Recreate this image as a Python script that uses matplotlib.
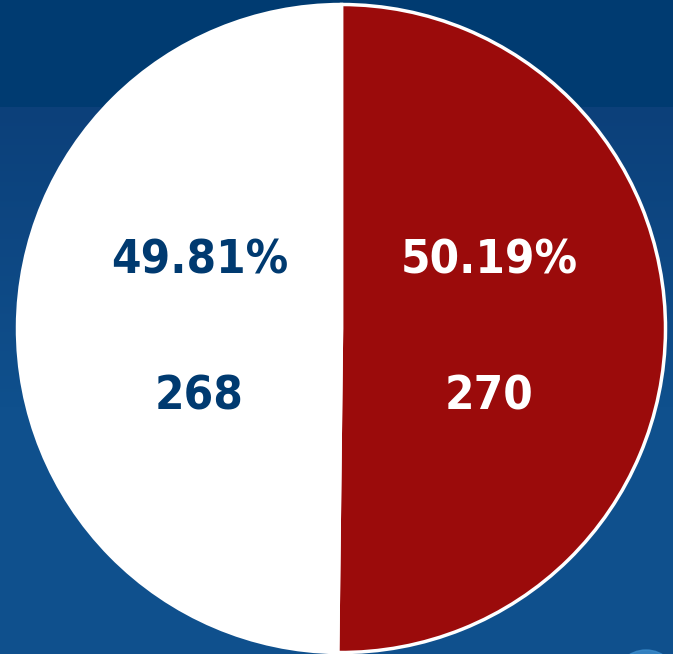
import numpy as np
import matplotlib
matplotlib.use("Agg")
import matplotlib.pyplot as plt
from matplotlib.patches import Circle

# Data
categories = ["Red", "White"]
counts = [270, 268]
percent_labels = ["50.19%", "49.81%"]
count_labels = ["270", "268"]

W, H = 673, 654
fig = plt.figure(figsize=(W / 100, H / 100), dpi=100)
ax = fig.add_axes([0, 0, 1, 1])
ax.set_xlim(0, W)
ax.set_ylim(0, H)
ax.set_aspect("equal")
ax.axis("off")

top_col = np.array([0x00, 0x3b, 0x71]) / 255
g0 = np.array([0x0c, 0x40, 0x7a]) / 255
g1 = np.array([0x0f, 0x50, 0x8d]) / 255
rows = []
for y in range(H):
    if y < 107:
        rows.append(top_col)
    else:
        t = min(1.0, (y - 107) / 300)
        rows.append(g0 + (g1 - g0) * t)
bg = np.array(rows)[:, None, :].repeat(2, axis=1)
ax.imshow(bg, extent=[0, W, 0, H], origin="upper", aspect="auto", zorder=0)

ax.add_patch(Circle((646, -28), 32, color="#3b8ccc", alpha=0.8, zorder=1))

cx, cy, r = 341.5, H - 328.5, 324
wedges, _ = ax.pie(counts, colors=["#9b0b0b", "#ffffff"], startangle=90,
                   counterclock=False, center=(cx, cy), radius=r,
                   wedgeprops=dict(edgecolor="white", linewidth=2.5))
for w in wedges:
    w.set_zorder(2)
ax.set_xlim(0, W)
ax.set_ylim(0, H)

font = dict(family=["DejaVu Sans"], fontstretch="condensed", fontweight="bold",
            fontsize=34, ha="center", va="center", zorder=3)
tx = cx + 3
dx = 145
ax.text(tx + dx, cy + 67, percent_labels[0], color="white", **font)
ax.text(tx + dx, cy - 68, count_labels[0], color="white", **font)
ax.text(tx - dx, cy + 67, percent_labels[1], color="#003a70", **font)
ax.text(tx - dx, cy - 68, count_labels[1], color="#003a70", **font)

fig.savefig("out.png", dpi=100)
